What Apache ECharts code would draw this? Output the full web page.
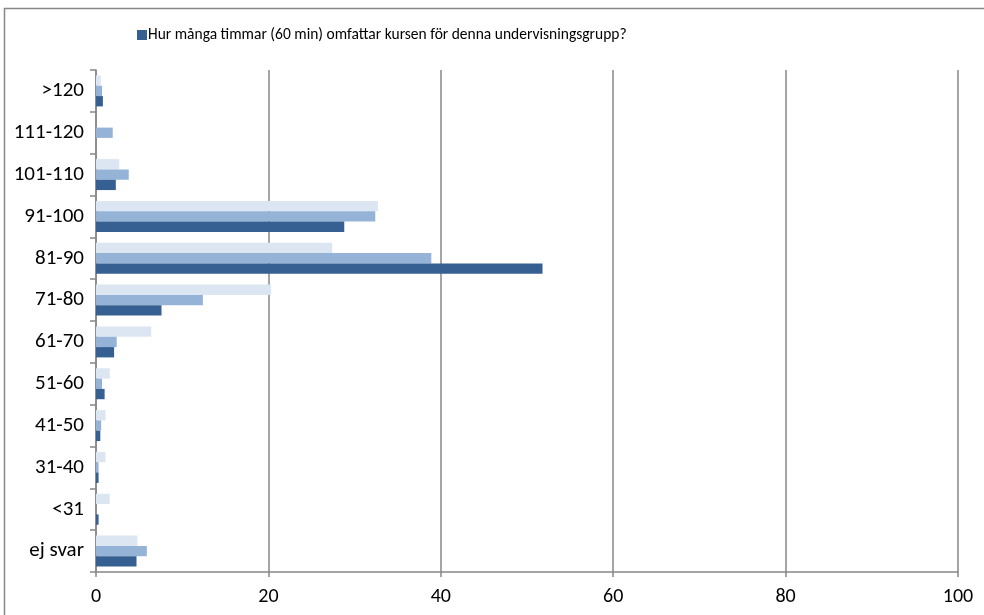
<!DOCTYPE html>
<html>
<head>
<meta charset="utf-8">
<script src="https://cdn.jsdelivr.net/npm/echarts@6/dist/echarts.min.js"></script>
<style>
  html, body { margin: 0; padding: 0; background: #fff; }
  #chart { width: 984px; height: 615px; }
</style>
</head>
<body>
<div id="chart"></div>
<script>
// kategorier uppifrån och ned
const categories = ['>120', '111-120', '101-110', '91-100', '81-90', '71-80', '61-70', '51-60', '41-50', '31-40', '<31', 'ej svar']
// tre serier, ljus -> mellan -> mörk
const lightValues = [0.55, 0, 2.7, 32.7, 27.4, 20.3, 6.4, 1.6, 1.1, 1.1, 1.6, 4.8]
const mediumValues = [0.7, 1.94, 3.8, 32.4, 38.9, 12.4, 2.4, 0.7, 0.6, 0.3, 0, 5.9]
const darkValues = [0.8, 0, 2.3, 28.8, 51.8, 7.6, 2.1, 1.0, 0.5, 0.3, 0.3, 4.7]
const xTicks = [0, 20, 40, 60, 80, 100]
const legendName = 'Hur många timmar (60 min) omfattar kursen för denna undervisningsgrupp?'

const font = 'Carlito, Lato, "Liberation Sans", sans-serif'
const legendFont = '"Liberation Sans Narrow", Carlito, Lato, sans-serif'
const chart = echarts.init(document.getElementById('chart'))

chart.setOption({
  animation: false,
  textStyle: { fontFamily: font },
  graphic: [
    {
      type: 'rect',
      shape: { x: 4.5, y: 8.5, width: 1000, height: 700 },
      style: { fill: 'none', stroke: '#878787', lineWidth: 1.5 },
      silent: true
    }
  ],
  legend: {
    data: [legendName],
    left: 132,
    top: 22,
    itemWidth: 10,
    itemHeight: 10,
    itemGap: 2,
    icon: 'rect',
    textStyle: { fontSize: 15.5, color: '#000', fontFamily: legendFont, padding: [0, 0, 0, -4] }
  },
  grid: { left: 96, right: 26, top: 70, bottom: 43, containLabel: false },
  xAxis: {
    type: 'value',
    min: xTicks[0],
    max: xTicks[xTicks.length - 1],
    interval: 20,
    axisLine: { show: true, lineStyle: { color: '#878787', width: 1.5 } },
    axisTick: { show: true, length: 5, lineStyle: { color: '#878787', width: 1.5 } },
    splitLine: { show: true, lineStyle: { color: '#878787', width: 1.5 } },
    axisLabel: { fontSize: 20, color: '#000', margin: 15, fontFamily: font }
  },
  yAxis: {
    type: 'category',
    data: categories,
    inverse: true,
    axisLine: { show: true, lineStyle: { color: '#878787', width: 1.5 } },
    axisTick: { show: true, length: 6, lineStyle: { color: '#878787', width: 1.5 } },
    axisLabel: { fontSize: 21, color: '#000', margin: 12, fontFamily: font }
  },
  series: [
    {
      name: 'Serie 1',
      type: 'bar',
      data: lightValues,
      itemStyle: { color: '#DCE6F2' },
      barGap: '0%',
      barCategoryGap: '26%'
    },
    {
      name: 'Serie 2',
      type: 'bar',
      data: mediumValues,
      itemStyle: { color: '#95B3D7' },
      barGap: '0%',
      barCategoryGap: '26%'
    },
    {
      name: legendName,
      type: 'bar',
      data: darkValues,
      itemStyle: { color: '#376092' },
      barGap: '0%',
      barCategoryGap: '26%'
    }
  ]
})
</script>
</body>
</html>
